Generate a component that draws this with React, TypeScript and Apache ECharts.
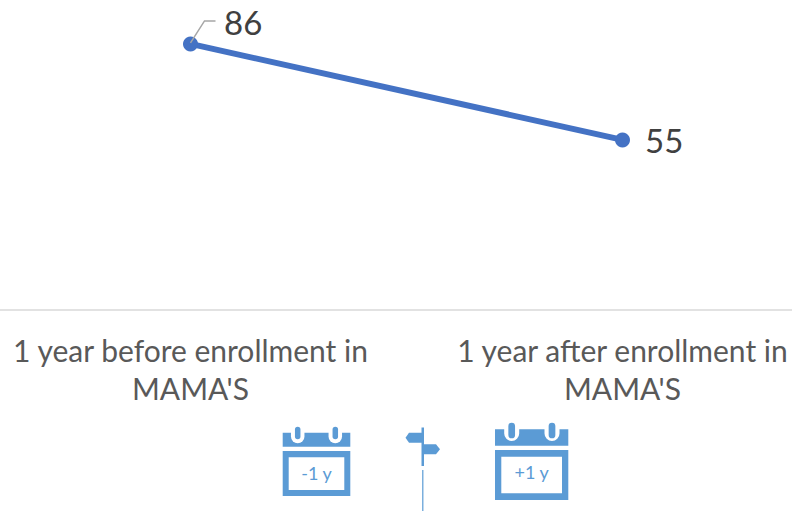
import React, { useEffect, useRef } from "react";
import * as echarts from "echarts";

const categories = ["1 year before enrollment in\nMAMA'S", "1 year after enrollment in\nMAMA'S"];
const values = [86, 55];
const FONT = "Lato, Carlito, 'Open Sans', sans-serif";
const ICON = "#5B9BD5";

const r = (x: number, y: number, width: number, height: number, fill: string, radius: any = 0) => ({
  type: "rect", shape: { x, y, width, height, r: radius }, style: { fill },
});

function calendar(x0: number, x1: number, barTop: number, barBottom: number, bodyTop: number, bodyBottom: number,
  pad: number, innerTop: number, innerBottom: number, pills: number[], pillTop: number, pillBottom: number, pillW: number, ringW: number, ringBottom: number, text: string, textY: number) {
  const cx = (x0 + x1) / 2;
  const els: any[] = [
    r(x0, barTop, x1 - x0, barBottom - barTop, ICON),
    r(x0, bodyTop, x1 - x0, bodyBottom - bodyTop, ICON),
    r(x0 + pad, innerTop, x1 - x0 - 2 * pad, innerBottom - innerTop, "#fff"),
  ];
  pills.forEach((p) => {
    els.push(r(p - ringW / 2, barTop - 1, ringW, ringBottom - barTop + 1, "#fff", [0, 0, ringW / 2, ringW / 2]));
    els.push(r(p - pillW / 2, pillTop, pillW, pillBottom - pillTop, ICON, pillW / 2));
  });
  els.push({
    type: "text", x: cx, y: textY,
    style: { text, fill: ICON, font: `18px ${FONT}`, textAlign: "center", textVerticalAlign: "middle" },
  });
  return els;
}

const signpost: any[] = [
  r(421.5, 427.5, 2.5, 38.5, ICON),
  { type: "polygon", shape: { points: [[422, 432.7], [409, 432.7], [405.5, 437.7], [409, 442.7], [422, 442.7]] }, style: { fill: ICON } },
  { type: "polygon", shape: { points: [[423, 444.3], [436, 444.3], [440, 449.3], [436, 454.3], [423, 454.3]] }, style: { fill: ICON } },
  r(422.2, 470, 1.2, 41, ICON),
];

export default function App() {
  const ref = useRef<HTMLDivElement>(null);
  useEffect(() => {
    const chart = echarts.init(ref.current!, undefined, { renderer: "svg" });
    chart.setOption({
      animation: false,
      backgroundColor: "#fff",
      grid: { left: -25.5, top: 0.6, width: 864, height: 309.6, containLabel: false, outerBoundsMode: "none" },
      xAxis: {
        type: "category",
        data: categories,
        boundaryGap: true,
        axisTick: { show: false },
        axisLine: { lineStyle: { color: "#D9D9D9", width: 1.5 } },
        axisLabel: { color: "#595959", fontFamily: FONT, fontSize: 30, lineHeight: 38, margin: 21, interval: 0, hideOverlap: false },
      },
      yAxis: { type: "value", min: 0, max: 100, show: false, splitLine: { show: false } },
      series: [{
        type: "line",
        data: values,
        symbol: "circle",
        symbolSize: 15,
        lineStyle: { color: "#4472C4", width: 6 },
        itemStyle: { color: "#4472C4" },
        label: { show: true, position: "right", distance: 15, color: "#404040", fontFamily: FONT, fontSize: 33 },
        labelLayout: (p: any) => (p.dataIndex === 0 ? { dx: 11, dy: -22 } : {}),
      }],
    });
    const [px, py] = chart.convertToPixel({ xAxisIndex: 0, yAxisIndex: 0 }, [0, values[0]]);
    chart.setOption({
      graphic: [{
        type: "group",
        children: [
          {
            type: "polyline", z: 100,
            shape: { points: [[px, py - 1], [px + 14, py - 23], [px + 25, py - 23]] },
            style: { stroke: "#A6A6A6", lineWidth: 1.5, fill: "none" },
          },
          ...calendar(282.7, 350.3, 432.7, 446.7, 451, 496, 6, 457.3, 490, [297.7, 335.3], 426.7, 439.3, 5.5, 13.5, 443.3, "-1 y", 473),
          ...signpost,
          ...calendar(495, 568.3, 429.3, 445.7, 450, 500, 6.3, 456.7, 493.3, [511.7, 552], 422.7, 438.3, 6.7, 15, 441, "+1 y", 472),
        ],
      }],
    });
    return () => chart.dispose();
  }, []);
  return <div ref={ref} style={{ position: "absolute", left: 0, top: 0, width: 792, height: 511 }} />;
}
